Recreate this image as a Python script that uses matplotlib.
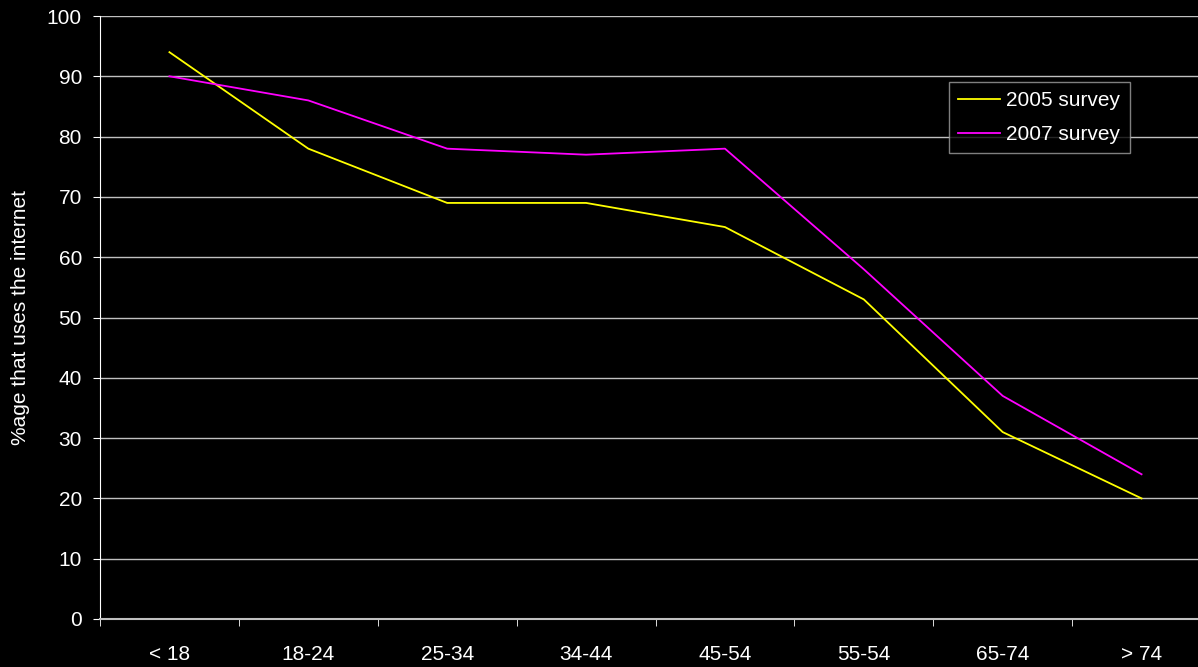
import numpy as np
import matplotlib.pyplot as plt

plt.rcParams['font.family'] = ['Liberation Sans', 'DejaVu Sans']

# age groups and share (%) using the internet
ages = ['< 18', '18-24', '25-34', '34-44', '45-54', '55-54', '65-74', '> 74']
survey_2005 = [94, 78, 69, 69, 65, 53, 31, 20]
survey_2007 = [90, 86, 78, 77, 78, 58, 37, 24]

fig = plt.figure(figsize=(11.98, 6.67), dpi=100, facecolor='black')
ax = fig.add_axes([100 / 1198, 48 / 667, 1111 / 1198, 603 / 667])
ax.set_facecolor('black')

x = np.arange(len(ages))
ax.plot(x, survey_2005, color='#ffff00', lw=1.3, label='2005 survey')
ax.plot(x, survey_2007, color='#ff00ff', lw=1.3, label='2007 survey')

ax.set_xlim(-0.5, len(ages) - 0.5)
ax.set_ylim(0, 100)
ax.set_yticks(np.arange(0, 101, 10))
ax.set_xticks(x)
ax.set_xticklabels(ages)
ax.set_xticks(np.arange(-0.5, len(ages), 1), minor=True)

ax.grid(axis='y', color='#c0c0c0', lw=1)
ax.set_axisbelow(True)

for s in ['top', 'right']:
    ax.spines[s].set_visible(False)
ax.spines['left'].set_color('white')
ax.spines['bottom'].set_color('#c0c0c0')
ax.spines['bottom'].set_linewidth(1.5)

ax.tick_params(axis='y', colors='white', labelsize=15, length=5, pad=8)
ax.tick_params(axis='x', which='major', colors='white', labelsize=15, length=0, pad=19)
ax.tick_params(axis='x', which='minor', colors='white', length=5)

ax.set_ylabel('%age that uses the internet', color='white', fontsize=15, labelpad=12)

leg = ax.legend(loc='upper left', bbox_to_anchor=(849 / 1111, 1 - 66 / 603),
                fontsize=15, frameon=True, fancybox=False, handlelength=2.0,
                borderpad=0.45, labelspacing=0.7, handletextpad=0.3,
                borderaxespad=0)
leg.get_frame().set_facecolor('black')
leg.get_frame().set_edgecolor('#a0a0a0')
for t in leg.get_texts():
    t.set_color('white')

fig.savefig('out.png', dpi=100, facecolor='black')
